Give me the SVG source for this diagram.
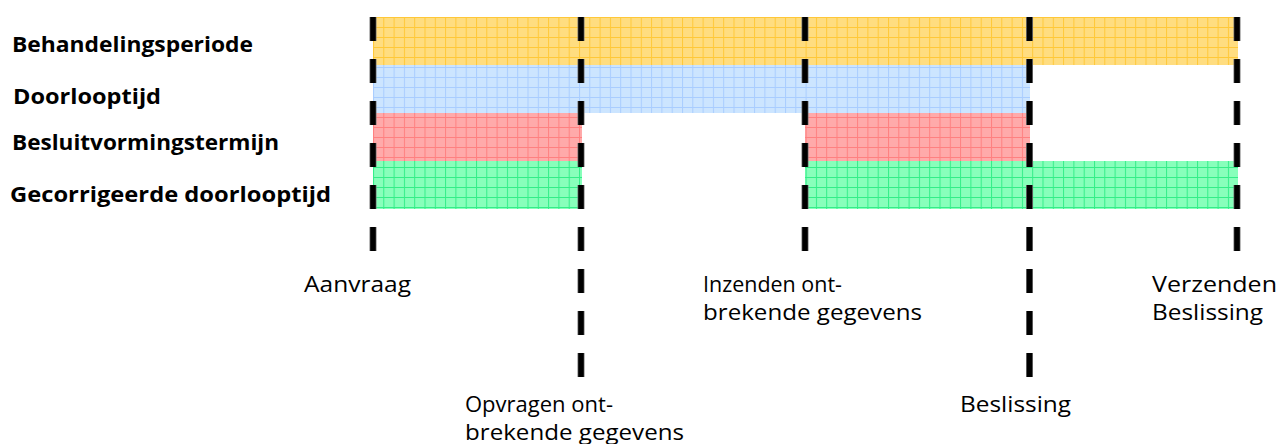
<svg xmlns="http://www.w3.org/2000/svg" width="1279" height="444" viewBox="0 0 1279 444">
<style>
.lbl{font-family:"Open Sans","DejaVu Sans",sans-serif;font-weight:bold;font-size:21px;fill:#000}
.ev{font-family:"Open Sans","DejaVu Sans",sans-serif;font-size:22px;fill:#000}
.dashO{stroke:#777;stroke-width:7;stroke-dasharray:24 18;fill:none}
.dash{stroke:#000;stroke-width:5.5;stroke-dasharray:24 18;fill:none}
</style>
<defs>
<pattern id="pY" width="10.3" height="10" patternUnits="userSpaceOnUse" x="373" y="17">
<rect width="10.3" height="10" fill="#FFDD80"/><rect width="1" height="10" fill="#FFC838"/><rect width="10.3" height="1" fill="#FFC838"/>
</pattern>
<pattern id="pB" width="10.3" height="10" patternUnits="userSpaceOnUse" x="373" y="17">
<rect width="10.3" height="10" fill="#CCE5FF"/><rect width="1" height="10" fill="#A9CDFF"/><rect width="10.3" height="1" fill="#A9CDFF"/>
</pattern>
<pattern id="pR" width="10.3" height="10" patternUnits="userSpaceOnUse" x="373" y="17">
<rect width="10.3" height="10" fill="#FFAAAA"/><rect width="1" height="10" fill="#FF8080"/><rect width="10.3" height="1" fill="#FF8080"/>
</pattern>
<pattern id="pG" width="10.3" height="10" patternUnits="userSpaceOnUse" x="373" y="17">
<rect width="10.3" height="10" fill="#88FFBB"/><rect width="1" height="10" fill="#33EE88"/><rect width="10.3" height="1" fill="#33EE88"/>
</pattern>
</defs>
<g id="behandelingsperiode">
<rect x="373" y="17" width="865" height="48" fill="url(#pY)"/>
<text class="lbl" x="12" y="52" textLength="241" lengthAdjust="spacingAndGlyphs">Behandelingsperiode</text>
</g>
<g id="doorlooptijd">
<rect x="373" y="65" width="657" height="48" fill="url(#pB)"/>
<text class="lbl" x="13" y="104" textLength="148" lengthAdjust="spacingAndGlyphs">Doorlooptijd</text>
</g>
<g id="besluitvormingstermijn">
<rect x="373" y="113" width="209" height="48" fill="url(#pR)"/>
<rect x="805" y="113" width="225" height="48" fill="url(#pR)"/>
<text class="lbl" x="12" y="150" textLength="267" lengthAdjust="spacingAndGlyphs">Besluitvormingstermijn</text>
</g>
<g id="gecorrigeerde-doorlooptijd">
<rect x="373" y="161" width="209" height="48" fill="url(#pG)"/>
<rect x="805" y="161" width="433" height="48" fill="url(#pG)"/>
<text class="lbl" x="10" y="202" textLength="321" lengthAdjust="spacingAndGlyphs">Gecorrigeerde doorlooptijd</text>
</g>
<g id="connectors">
<path class="dashO" d="M373 17V251M581 17V377M805 17V251M1029.5 17V377M1237 17V251"/>
<path class="dash" d="M373 17V251M581 17V377M805 17V251M1029.5 17V377M1237 17V251"/>
</g>
<g id="aanvraag"><text class="ev" x="304" y="292" textLength="107" lengthAdjust="spacingAndGlyphs">Aanvraag</text></g>
<g id="opvragen"><text class="ev" x="465" y="412" textLength="148" lengthAdjust="spacingAndGlyphs">Opvragen ont-</text><text class="ev" x="465" y="440" textLength="219" lengthAdjust="spacingAndGlyphs">brekende gegevens</text></g>
<g id="inzenden"><text class="ev" x="703" y="292" textLength="139" lengthAdjust="spacingAndGlyphs">Inzenden ont-</text><text class="ev" x="703" y="320" textLength="219" lengthAdjust="spacingAndGlyphs">brekende gegevens</text></g>
<g id="beslissing"><text class="ev" x="960" y="412" textLength="111" lengthAdjust="spacingAndGlyphs">Beslissing</text></g>
<g id="verzenden"><text class="ev" x="1152" y="292" textLength="125" lengthAdjust="spacingAndGlyphs">Verzenden</text><text class="ev" x="1152" y="320" textLength="111" lengthAdjust="spacingAndGlyphs">Beslissing</text></g>
</svg>
